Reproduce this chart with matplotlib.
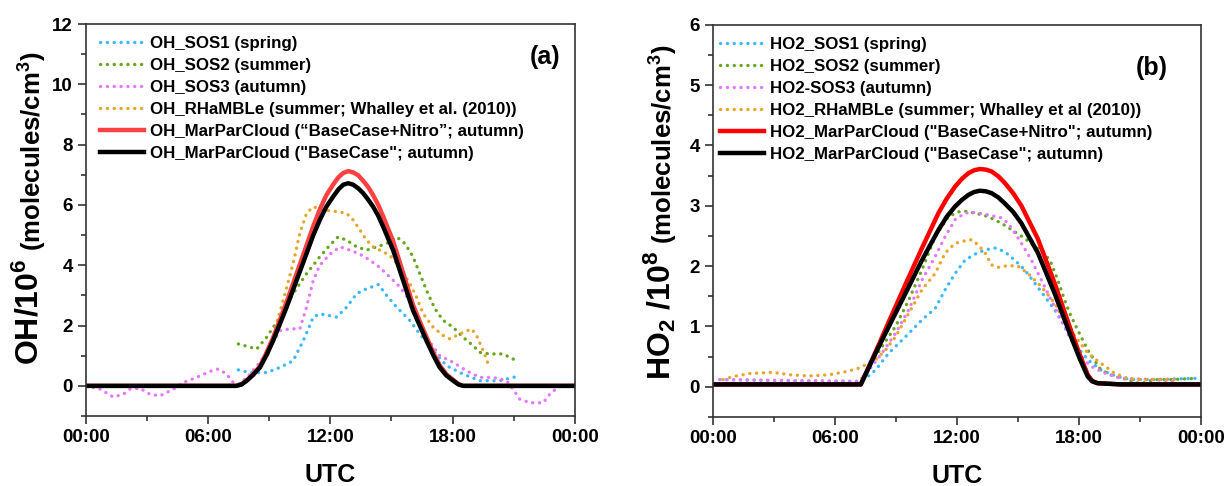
import numpy as np
import matplotlib
matplotlib.use("Agg")
import matplotlib.pyplot as plt
from matplotlib.ticker import MultipleLocator

plt.rcParams['font.family'] = ['Liberation Sans', 'DejaVu Sans']
plt.rcParams['font.weight'] = 'bold'
plt.rcParams['mathtext.fontset'] = 'custom'
plt.rcParams['mathtext.rm'] = 'Liberation Sans:bold'
plt.rcParams['mathtext.it'] = 'Liberation Sans:bold'
plt.rcParams['mathtext.bf'] = 'Liberation Sans:bold'

# ---------------- data (hours UTC) ----------------
xtick_pos = [0, 6, 12, 18, 24]
xtick_labels = ["00:00", "06:00", "12:00", "18:00", "00:00"]

# panel (a): OH / 1e6 molecules cm-3
oh_sos1_h = [7.48, 8.05, 8.87, 9.52, 10.17, 10.67, 11.16, 11.48, 12.31, 12.8, 13.29, 13.78,
             14.36, 14.76, 15.25, 15.9, 16.39, 17.05, 17.7, 18.52, 19.34, 20.32, 20.97, 21.3]
oh_sos1 = [0.53, 0.44, 0.44, 0.61, 0.83, 1.5, 2.28, 2.39, 2.28, 2.61, 3.06, 3.22,
           3.36, 3.0, 2.61, 2.17, 1.72, 1.17, 0.67, 0.39, 0.17, 0.17, 0.28, 0.33]

oh_sos2_h = [7.48, 8.38, 8.87, 9.52, 10.17, 10.83, 11.48, 11.98, 12.38, 12.8, 13.29, 13.78,
             14.27, 14.76, 15.25, 15.66, 16.06, 16.39, 16.72, 17.13, 17.54, 18.03, 18.52,
             19.01, 19.34, 19.83, 20.48, 21.06]
oh_sos2 = [1.39, 1.22, 1.61, 2.28, 3.06, 3.72, 4.28, 4.67, 4.94, 4.83, 4.61, 4.5,
           4.61, 4.72, 4.94, 4.72, 4.28, 3.72, 3.17, 2.56, 2.17, 1.94, 1.61,
           1.33, 1.11, 1.06, 1.06, 0.86]

oh_sos3_h = [0.03, 0.69, 1.34, 1.83, 2.16, 2.65, 3.14, 3.63, 4.29, 4.78, 5.43, 6.09, 6.5,
             6.9, 7.23, 7.56, 8.05, 8.54, 9.03, 9.52, 10.01, 10.5, 10.83, 11.16, 11.48,
             11.98, 12.47, 12.96, 13.45, 13.94, 14.43, 14.92, 15.41, 15.9, 16.23, 16.72,
             17.37, 18.03, 18.68, 19.34, 19.99, 20.65, 20.97, 21.3, 21.79, 22.45, 22.77,
             23.43]
oh_sos3 = [0.0, -0.11, -0.37, -0.28, -0.11, -0.08, -0.28, -0.33, -0.11, 0.11, 0.28, 0.48, 0.56,
           0.39, 0.11, 0.06, 0.39, 0.78, 1.28, 1.83, 1.89, 1.89, 2.61, 3.5, 4.0,
           4.37, 4.61, 4.5, 4.37, 4.17, 3.92, 3.61, 3.28, 2.83, 2.39, 1.61,
           1.0, 0.78, 0.5, 0.28, 0.28, 0.17, -0.11, -0.44, -0.56, -0.56, -0.28,
           0.11]

oh_rhamble_h = [8.95, 9.36, 9.68, 10.17, 10.5, 10.83, 11.16, 11.65, 12.31, 12.8, 13.12, 13.45,
                13.78, 14.1, 14.43, 14.92, 15.41, 15.9, 16.23, 16.56, 17.05, 17.54, 17.86,
                18.35, 18.93, 19.18, 19.5, 19.75]
oh_rhamble = [1.06, 2.06, 2.83, 4.06, 5.06, 5.72, 5.94, 5.83, 5.78, 5.72, 5.5, 5.17,
              4.83, 4.61, 4.5, 4.33, 3.94, 3.39, 2.94, 2.39, 1.94, 1.67, 1.56,
              1.72, 1.89, 1.67, 1.17, 0.72]

oh_model_h = [0, 7.39, 7.64, 7.89, 8.2, 8.54, 8.85, 9.19, 9.5, 9.85, 10.34, 10.83, 11.15,
              11.48, 11.8, 12.14, 12.4, 12.63, 12.88, 13.12, 13.37, 13.61, 13.85, 14.1,
              14.35, 14.59, 15.08, 15.57, 16.06, 16.4, 16.72, 17.05, 17.37, 17.7, 18.03,
              18.28, 18.52, 24]
oh_nitro = [0, 0, 0.05, 0.18, 0.38, 0.65, 1.08, 1.6, 2.15, 2.78, 3.72, 4.66, 5.28,
            5.85, 6.32, 6.68, 6.92, 7.06, 7.12, 7.08, 6.98, 6.8, 6.6, 6.32,
            6.0, 5.62, 4.8, 3.75, 2.68, 2.12, 1.62, 1.1, 0.68, 0.38, 0.2,
            0.06, 0, 0]
oh_base = [0, 0, 0.05, 0.17, 0.36, 0.61, 1.0, 1.5, 2.02, 2.61, 3.5, 4.39, 4.98,
           5.5, 5.94, 6.28, 6.52, 6.67, 6.72, 6.67, 6.55, 6.39, 6.18, 5.94,
           5.64, 5.28, 4.5, 3.5, 2.5, 1.98, 1.5, 1.02, 0.61, 0.34, 0.17,
           0.05, 0, 0]

# panel (b): HO2 / 1e8 molecules cm-3
ho2_sos1_h = [0.34, 3.76, 7.18, 7.51, 8.0, 8.65, 9.47, 10.28, 10.93, 11.42, 11.91, 12.4, 12.89,
              13.38, 13.87, 14.35, 14.84, 15.33, 15.82, 16.31, 16.8, 17.29, 17.77, 18.43,
              19.08, 19.89, 20.54, 21.69, 23.72]
ho2_sos1 = [0.12, 0.1, 0.09, 0.14, 0.28, 0.56, 0.83, 1.11, 1.3, 1.61, 1.88, 2.1, 2.2,
            2.27, 2.3, 2.24, 2.1, 1.94, 1.72, 1.5, 1.28, 1.0, 0.72, 0.45,
            0.28, 0.17, 0.12, 0.12, 0.14]

ho2_sos2_h = [7.35, 7.67, 8.32, 8.98, 9.63, 10.28, 10.93, 11.58, 12.07, 12.4, 12.89, 13.54,
              14.19, 14.84, 15.33, 15.82, 16.31, 16.63, 16.96, 17.29, 17.61, 17.94, 18.43,
              19.08, 19.73, 20.38, 21.03, 21.69, 22.5, 23.72]
ho2_sos2 = [0.09, 0.34, 0.67, 1.0, 1.44, 1.94, 2.49, 2.82, 2.9, 2.91, 2.88, 2.82,
            2.71, 2.57, 2.46, 2.33, 2.22, 2.05, 1.77, 1.44, 1.17, 0.94, 0.61,
            0.28, 0.17, 0.12, 0.05, 0.12, 0.12, 0.14]

ho2_sos3_h = [0.34, 7.18, 7.67, 8.32, 8.98, 9.63, 10.28, 10.93, 11.42, 11.91, 12.4, 12.89,
              13.54, 14.19, 14.52, 14.84, 15.17, 15.66, 16.15, 16.63, 17.12, 17.61, 18.1,
              18.59, 19.24, 20.05, 21.69, 22.82]
ho2_sos3 = [0.12, 0.09, 0.28, 0.56, 0.89, 1.28, 1.77, 2.16, 2.49, 2.77, 2.88, 2.89,
            2.85, 2.8, 2.71, 2.55, 2.38, 2.1, 1.77, 1.44, 1.11, 0.78, 0.5,
            0.34, 0.23, 0.14, 0.12, 0.09]

ho2_rhamble_h = [0.5, 0.99, 1.81, 2.95, 3.76, 4.74, 5.72, 6.53, 7.18, 8.0, 8.49, 8.98, 9.63,
                 10.28, 10.93, 11.42, 11.91, 12.4, 12.72, 13.05, 13.38, 13.7, 14.03, 14.52,
                 15.0, 15.49, 16.15, 16.8, 17.45, 17.94, 18.43, 19.08, 19.73, 20.38, 21.03,
                 22.82]
ho2_rhamble = [0.12, 0.17, 0.22, 0.24, 0.2, 0.18, 0.2, 0.25, 0.31, 0.45, 0.61, 0.83, 1.22,
               1.61, 1.88, 2.22, 2.38, 2.42, 2.44, 2.35, 2.22, 2.02, 1.98, 2.01,
               2.0, 1.88, 1.66, 1.39, 1.0, 0.78, 0.56, 0.39, 0.23, 0.14, 0.12,
               0.12]

ho2_model_h = [0, 7.27, 8.0, 8.65, 9.47, 10.28, 11.09, 11.5, 11.91, 12.25, 12.56, 12.85,
               13.13, 13.42, 13.7, 14.03, 14.35, 14.76, 15.17, 15.98, 16.8, 17.61, 18.02,
               18.43, 18.65, 18.91, 20.05, 24]
ho2_nitro = [0.04, 0.04, 0.58, 1.08, 1.7, 2.3, 2.88, 3.12, 3.32, 3.45, 3.54, 3.59,
             3.61, 3.6, 3.57, 3.49, 3.38, 3.21, 3.0, 2.45, 1.72, 0.93, 0.55,
             0.2, 0.1, 0.06, 0.04, 0.04]
ho2_base = [0.04, 0.04, 0.56, 1.0, 1.55, 2.1, 2.6, 2.82, 2.99, 3.1, 3.18, 3.23,
            3.25, 3.24, 3.21, 3.14, 3.04, 2.9, 2.71, 2.22, 1.55, 0.83, 0.48,
            0.17, 0.09, 0.06, 0.04, 0.04]

c_blue = "#3BB9FF"
c_green = "#67A61E"
c_mag = "#E678FF"
c_orange = "#E9A52A"

fig = plt.figure(figsize=(12.25, 4.86), dpi=100)
ax1 = fig.add_axes([0.0702, 0.144, 0.399, 0.8066])
ax2 = fig.add_axes([0.582, 0.142, 0.3984, 0.807])


def dotted(ax, x, y, color, label):
    ax.plot(x, y, linestyle=(0, (0.05, 2.0)), color=color, lw=2.4,
            dash_capstyle='round', solid_joinstyle='round', label=label)


def style_axes(ax, ylim, ymajor, yminor):
    ax.set_xlim(0, 24)
    ax.set_ylim(*ylim)
    ax.set_xticks(xtick_pos)
    ax.set_xticklabels(xtick_labels)
    ax.xaxis.set_minor_locator(MultipleLocator(3))
    ax.yaxis.set_major_locator(MultipleLocator(ymajor))
    ax.yaxis.set_minor_locator(MultipleLocator(yminor))
    ax.tick_params(which='both', direction='out', top=False, right=False,
                   colors='#222222', labelcolor='black', labelsize=13.5, width=1.1)
    ax.tick_params(which='major', length=6)
    ax.tick_params(which='minor', length=3.5)
    for s in ax.spines.values():
        s.set_color('#333333')
        s.set_linewidth(1.2)
    ax.set_xlabel("UTC", fontsize=18, fontweight='bold', labelpad=12)


leg_kw = dict(loc='upper left', frameon=False, fontsize=12.2, borderaxespad=0,
              borderpad=0, handlelength=2.6, handletextpad=0.35, labelspacing=0.42)

# panel (a)
dotted(ax1, oh_sos1_h, oh_sos1, c_blue, "OH_SOS1 (spring)")
dotted(ax1, oh_sos2_h, oh_sos2, c_green, "OH_SOS2 (summer)")
dotted(ax1, oh_sos3_h, oh_sos3, c_mag, "OH_SOS3 (autumn)")
dotted(ax1, oh_rhamble_h, oh_rhamble, c_orange, "OH_RHaMBLe (summer; Whalley et al. (2010))")
ax1.plot(oh_model_h, oh_nitro, color="#FF4040", lw=3.2,
         label="OH_MarParCloud (\u201cBaseCase+Nitro\u201d; autumn)")
ax1.plot(oh_model_h, oh_base, color="black", lw=3.2,
         label="OH_MarParCloud (\"BaseCase\"; autumn)")
style_axes(ax1, (-1, 12), 2, 1)
ax1.legend(bbox_to_anchor=(0.029, 0.970), **leg_kw)
ax1.text(0.94, 0.915, "(a)", transform=ax1.transAxes, fontsize=18, fontweight='bold',
         ha='center', va='center')

# panel (b)
dotted(ax2, ho2_sos1_h, ho2_sos1, c_blue, "HO2_SOS1 (spring)")
dotted(ax2, ho2_sos2_h, ho2_sos2, c_green, "HO2_SOS2 (summer)")
dotted(ax2, ho2_sos3_h, ho2_sos3, c_mag, "HO2-SOS3 (autumn)")
dotted(ax2, ho2_rhamble_h, ho2_rhamble, c_orange, "HO2_RHaMBLe (summer; Whalley et al (2010))")
ax2.plot(ho2_model_h, ho2_nitro, color="#FF0000", lw=3.2,
         label="HO2_MarParCloud (\"BaseCase+Nitro\"; autumn)")
ax2.plot(ho2_model_h, ho2_base, color="black", lw=3.2,
         label="HO2_MarParCloud (\"BaseCase\"; autumn)")
style_axes(ax2, (-0.5, 6), 1, 0.5)
ax2.legend(bbox_to_anchor=(0.014, 0.970), **leg_kw)
ax2.text(0.9, 0.89, "(b)", transform=ax2.transAxes, fontsize=18, fontweight='bold',
         ha='center', va='center')

# y labels: two sizes, chained
t1 = fig.text(0.0245, 0.249, "OH/10$^6$", rotation=90, fontsize=23, fontweight='bold',
              ha='center', va='bottom')
fig.canvas.draw()
ax1.annotate(" (molecules/cm$^3$)", xy=(0.6, 1.0), xycoords=t1, rotation=90, fontsize=18.5,
             fontweight='bold', ha='center', va='bottom')

t2 = fig.text(0.539, 0.218, "HO$_2$ /10$^8$", rotation=90, fontsize=23, fontweight='bold',
              ha='center', va='bottom')
ax2.annotate(" (molecules/cm$^3$)", xy=(0.6, 1.0), xycoords=t2, rotation=90, fontsize=18.5,
             fontweight='bold', ha='center', va='bottom')

fig.savefig("out.png", dpi=100, facecolor='white')
